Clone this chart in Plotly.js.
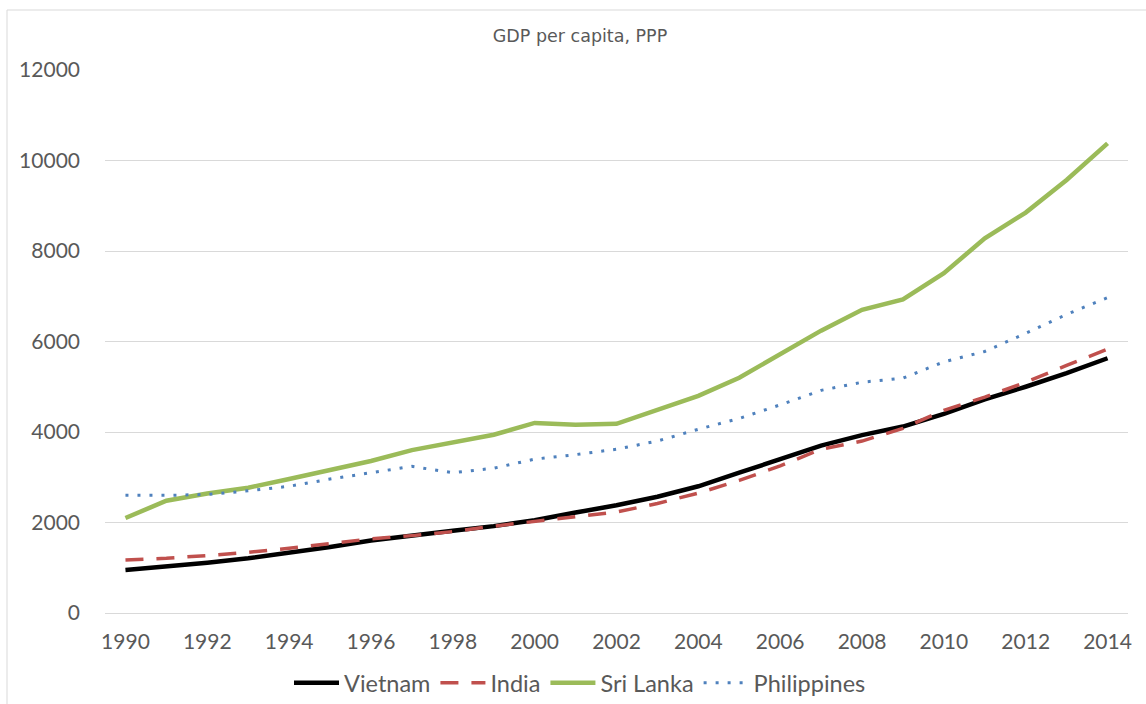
<!DOCTYPE html>
<html>
<head>
<meta charset="utf-8">
<script src="https://cdn.plot.ly/plotly-3.0.1.min.js"></script>
<style>html,body{margin:0;padding:0;background:#fff;}#chart{width:1146px;height:704px;}</style>
</head>
<body>
<div id="chart"></div>
<script>
const years = [1990,1991,1992,1993,1994,1995,1996,1997,1998,1999,2000,2001,2002,2003,2004,2005,2006,2007,2008,2009,2010,2011,2012,2013,2014];
const vietnam = [950,1020,1110,1210,1330,1460,1600,1720,1820,1920,2050,2220,2380,2570,2800,3100,3390,3700,3930,4120,4400,4720,5000,5300,5630];
const india = [1170,1210,1270,1340,1430,1530,1640,1710,1800,1920,2020,2130,2230,2420,2650,2930,3250,3620,3800,4080,4480,4770,5100,5470,5830];
const sriLanka = [2100,2480,2640,2770,2960,3160,3360,3600,3760,3940,4200,4160,4180,4480,4800,5200,5730,6240,6700,6930,7510,8280,8850,9570,10380];
const philippines = [2600,2600,2620,2700,2800,2960,3100,3240,3100,3200,3400,3500,3620,3800,4060,4300,4600,4920,5100,5190,5550,5780,6180,6600,6970];
const yTicks = [0,2000,4000,6000,8000,10000,12000];
const xTicks = [1990,1992,1994,1996,1998,2000,2002,2004,2006,2008,2010,2012,2014];

const traces = [
  {x: years, y: vietnam, name: 'Vietnam', mode: 'lines', line: {color: '#000000', width: 4.5}},
  {x: years, y: india, name: 'India', mode: 'lines', line: {color: '#c0504d', width: 3.5, dash: '18px,13px'}},
  {x: years, y: sriLanka, name: 'Sri Lanka', mode: 'lines', line: {color: '#9bbb59', width: 4.5}},
  {x: years, y: philippines, name: 'Philippines', mode: 'lines', line: {color: '#4f81bd', width: 3, dash: '3px,9px'}}
];

const L = 105, R = 1128, T = 70, B = 613;
const pw = R - L, ph = B - T;

const layout = {
  width: 1146, height: 704,
  margin: {l: L, r: 1146 - R, t: T, b: 704 - B, pad: 0, autoexpand: false},
  paper_bgcolor: '#ffffff', plot_bgcolor: '#ffffff',
  font: {family: 'Lato, sans-serif', color: '#595959', size: 21},
  title: {text: 'GDP per capita, PPP', font: {family: 'DejaVu Sans, sans-serif', size: 17.5, color: '#595959'},
          x: 580/1146, xref: 'container', xanchor: 'center', y: 1 - 36/704, yref: 'container', yanchor: 'middle'},
  showlegend: true,
  legend: {orientation: 'h', x: (580 - L)/pw, xanchor: 'center', y: (B - 683)/ph, yanchor: 'middle',
           font: {family: 'Lato, sans-serif', size: 23.5, color: '#595959'}, itemwidth: 45,
           tracegroupgap: 0, traceorder: 'normal'},
  xaxis: {range: [1989.5, 2014.5], tickvals: xTicks, ticktext: xTicks.map(String), showgrid: false, zeroline: false,
          showline: false, ticks: '', tickfont: {size: 21, color: '#595959'}, ticklabelstandoff: 14, fixedrange: true},
  yaxis: {range: [0, 12000], tickvals: yTicks, ticktext: yTicks.map(String), showgrid: true, gridcolor: '#d9d9d9', gridwidth: 1,
          zeroline: true, zerolinecolor: '#d9d9d9', zerolinewidth: 1, showline: false, ticks: '',
          tickfont: {size: 21, color: '#595959'}, ticklabelstandoff: 24, fixedrange: true},
  shapes: [
    {type: 'rect', xref: 'paper', yref: 'paper', x0: (7 - L)/pw, x1: (1160 - L)/pw, y0: (B - 720)/ph, y1: (B - 10)/ph,
     line: {color: '#d9d9d9', width: 1}, fillcolor: 'rgba(0,0,0,0)', layer: 'below'}
  ]
};

Plotly.newPlot('chart', traces, layout, {displayModeBar: false, staticPlot: true});
</script>
</body>
</html>
